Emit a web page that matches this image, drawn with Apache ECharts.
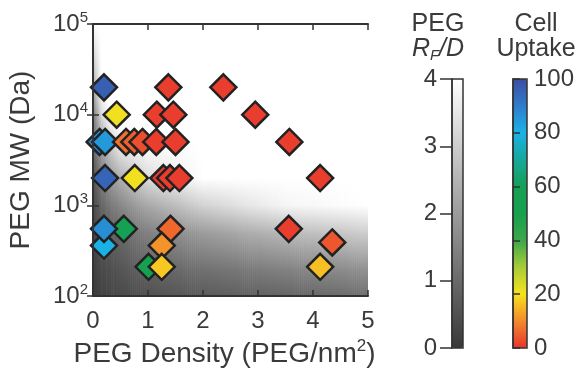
<!DOCTYPE html>
<html>
<head>
<meta charset="utf-8">
<script src="https://cdn.jsdelivr.net/npm/echarts@6.0.0/dist/echarts.min.js"></script>
<style>
  html, body { margin: 0; padding: 0; background: #fff; }
  #chart { width: 584px; height: 369px; }
</style>
</head>
<body>
<div id="chart"></div>
<script>
// PEG density (PEG/nm2), PEG MW (Da), cell uptake (%)
const pegDensity = [0.2, 1.37, 2.37, 0.43, 1.16, 1.46, 2.95, 0.12, 0.22, 0.6, 0.75, 0.9, 1.15, 1.5, 3.57,
  0.22, 0.76, 1.28, 1.4, 1.57, 4.13, 0.2, 0.56, 0.2, 1.41, 1.25, 1.01, 1.25, 3.56, 4.35, 4.13];
const pegMW = [20000, 20000, 20000, 10000, 10000, 10000, 10000, 5000, 5000, 5000, 5000, 5000, 5000, 5000, 5000,
  2000, 2000, 2000, 2000, 2000, 2000, 360, 550, 550, 550, 360, 210, 210, 550, 390, 210];
const cellUptake = [96, 1, 1, 21, 1, 1, 1, 88, 85, 7, 5, 3, 1, 1, 1,
  95, 21, 1, 1, 1, 1, 80, 58, 87, 6, 11, 53, 17, 1, 4, 16];

// background R_F/D read on a coarse grid (rows: MW, cols: density)
const rfdX = [0, 0.05, 0.15, 0.3, 0.5, 1, 2, 3.5, 5];
const rfdMW = [100, 200, 500, 1000, 2000, 5000, 10000, 20000, 100000];
const rfdGrid = [
  [0, 0.1, 0.2, 0.3, 0.35, 0.5, 0.7, 0.9, 1.1],
  [0.05, 0.2, 0.35, 0.45, 0.6, 0.85, 1.15, 1.5, 1.8],
  [0.15, 0.35, 0.6, 0.8, 1.0, 1.45, 2.0, 2.6, 3.0],
  [0.3, 0.55, 0.9, 1.25, 1.6, 2.25, 3.1, 3.8, 4],
  [0.5, 0.8, 1.35, 1.9, 2.4, 3.3, 4, 4, 4],
  [0.9, 1.3, 2.2, 3.0, 3.8, 4, 4, 4, 4],
  [1.4, 1.9, 3.2, 4, 4, 4, 4, 4, 4],
  [2.2, 2.8, 4, 4, 4, 4, 4, 4, 4],
  [4, 4, 4, 4, 4, 4, 4, 4, 4]
];

const rfdTicks = [0, 1, 2, 3, 4];
const uptakeTicks = [0, 20, 40, 60, 80, 100];

const FONT = '"Liberation Sans", Arial, Helvetica, sans-serif';
const TXT = '#3a3a3a';
const LINE = '#333';
const grayLo = 56, grayHi = 255;
const uptakeColors = ['#e8352e', '#f28a2e', '#f8e21c', '#a8cc3a', '#3aa84a', '#17a04e',
  '#14a055', '#18a89a', '#1ab2e6', '#2f7dcc', '#3d4ca2'];

function grayOf(v) {
  v = Math.max(0, Math.min(4, v));
  const g = Math.round(grayLo + (grayHi - grayLo) * v / 4);
  return 'rgb(' + g + ',' + g + ',' + g + ')';
}

const cells = [];
for (let j = 0; j < rfdMW.length - 1; j++) {
  for (let i = 0; i < rfdX.length - 1; i++) {
    const avg = (rfdGrid[j][i] + rfdGrid[j][i + 1] + rfdGrid[j + 1][i] + rfdGrid[j + 1][i + 1]) / 4;
    cells.push([(rfdX[i] + rfdX[i + 1]) / 2, Math.sqrt(rfdMW[j] * rfdMW[j + 1]), avg, i, j]);
  }
}

const points = pegDensity.map((d, k) => [d, pegMW[k], cellUptake[k]]);

function renderCell(params, api) {
  const i = api.value(3), j = api.value(4);
  const p0 = api.coord([rfdX[i], rfdMW[j]]);
  const p1 = api.coord([rfdX[i + 1], rfdMW[j + 1]]);
  const x0 = p0[0], x1 = p1[0], yb = p0[1], yt = p1[1];
  const n = Math.max(1, Math.ceil((x1 - x0) / 2));
  const w = (x1 - x0) / n;
  const children = [];
  for (let k = 0; k < n; k++) {
    const t = (k + 0.5) / n;
    const vb = rfdGrid[j][i] + (rfdGrid[j][i + 1] - rfdGrid[j][i]) * t;
    const vt = rfdGrid[j + 1][i] + (rfdGrid[j + 1][i + 1] - rfdGrid[j + 1][i]) * t;
    children.push({
      type: 'rect',
      shape: { x: x0 + w * k, y: yt, width: w + 0.6, height: yb - yt + 0.6 },
      style: {
        fill: new echarts.graphic.LinearGradient(0, 1, 0, 0, [
          { offset: 0, color: grayOf(vb) },
          { offset: 1, color: grayOf(vt) }
        ])
      },
      silent: true
    });
  }
  return { type: 'group', children: children };
}

const frameAxis = {
  axisLine: { show: true, lineStyle: { color: LINE, width: 2 } },
  axisTick: { show: true, inside: true, length: 6, lineStyle: { color: LINE, width: 1.5 } },
  splitLine: { show: false },
  z: 5
};

const sup = { fontSize: 15, fontFamily: FONT, color: TXT, verticalAlign: 'top', lineHeight: 28 };
const big = { fontSize: 24, fontFamily: FONT, color: TXT, verticalAlign: 'middle', lineHeight: 28 };

const chart = echarts.init(document.getElementById('chart'), null, { renderer: 'canvas' });

chart.setOption({
  animation: false,
  backgroundColor: '#fff',
  textStyle: { fontFamily: FONT },
  grid: [
    { left: 93, top: 24, width: 275, height: 272, outerBoundsMode: 'none', containLabel: false },
    { left: 452, top: 79, width: 11, height: 269, outerBoundsMode: 'none', show: true, z: 10, backgroundColor: 'transparent', borderColor: LINE, borderWidth: 1.5 },
    { left: 513, top: 79, width: 14, height: 269, outerBoundsMode: 'none', show: true, z: 10, backgroundColor: 'transparent', borderColor: LINE, borderWidth: 1.5 }
  ],
  xAxis: [
    Object.assign({}, frameAxis, {
      gridIndex: 0, type: 'value', min: 0, max: 5, interval: 1, position: 'bottom',
      axisLabel: { fontSize: 24, color: TXT, margin: 13, fontFamily: FONT },
      name: 'PEG Density (PEG/nm{s|2})', nameLocation: 'middle', nameGap: 39,
      nameTextStyle: { fontSize: 28, color: TXT, fontFamily: FONT, lineHeight: 32, padding: [0, 12, 0, 0],
        rich: { s: { fontSize: 17, color: TXT, fontFamily: FONT, verticalAlign: 'top', lineHeight: 32 } } }
    }),
    Object.assign({}, frameAxis, {
      gridIndex: 0, type: 'value', min: 0, max: 5, interval: 1, position: 'top',
      axisLabel: { show: false }
    }),
    { gridIndex: 1, type: 'value', show: false },
    { gridIndex: 2, type: 'value', show: false }
  ],
  yAxis: [
    Object.assign({}, frameAxis, {
      gridIndex: 0, type: 'log', logBase: 10, min: 100, max: 100000, position: 'left',
      minorTick: { show: false },
      axisLabel: {
        margin: 5, color: TXT,
        formatter: v => '{b|10}{s|' + Math.round(Math.log10(v)) + '}',
        rich: { b: big, s: sup }
      },
      name: 'PEG MW (Da)', nameLocation: 'middle', nameGap: 58,
      nameTextStyle: { fontSize: 28, color: TXT, fontFamily: FONT }
    }),
    Object.assign({}, frameAxis, {
      gridIndex: 0, type: 'log', logBase: 10, min: 100, max: 100000, position: 'right',
      axisLabel: { show: false }
    }),
    {
      gridIndex: 1, type: 'value', min: rfdTicks[0], max: rfdTicks[rfdTicks.length - 1], interval: 1,
      position: 'left', z: 12,
      axisLine: { show: true, lineStyle: { color: LINE, width: 1.5 } },
      axisTick: { show: true, inside: false, length: 12, lineStyle: { color: LINE, width: 1.5 } },
      axisLabel: { fontSize: 24, color: TXT, margin: 15, fontFamily: FONT },
      splitLine: { show: false }
    },
    {
      gridIndex: 2, type: 'value', min: uptakeTicks[0], max: uptakeTicks[uptakeTicks.length - 1], interval: 20,
      position: 'right', z: 12,
      axisLine: { show: true, lineStyle: { color: LINE, width: 1.5 } },
      axisTick: { show: true, inside: false, length: 7, lineStyle: { color: LINE, width: 1.5 } },
      axisLabel: { fontSize: 24, color: TXT, margin: 7, fontFamily: FONT },
      splitLine: { show: false }
    }
  ],
  visualMap: [
    {
      type: 'continuous', seriesIndex: 0, dimension: 2, min: 0, max: 4,
      calculable: false, hoverLink: false, orient: 'vertical',
      left: 452, top: 79, itemWidth: 11, itemHeight: 269, padding: 0,
      inRange: { color: [grayOf(0), grayOf(4)] }
    },
    {
      type: 'continuous', seriesIndex: 1, dimension: 2, min: 0, max: 100,
      calculable: false, hoverLink: false, orient: 'vertical',
      left: 513, top: 79, itemWidth: 14, itemHeight: 269, padding: 0,
      inRange: { color: uptakeColors }
    }
  ],
  graphic: [
    { type: 'text', x: 438, y: 24, style: { text: 'PEG', font: '25px ' + FONT, fill: TXT, align: 'center', verticalAlign: 'middle' } },
    { type: 'text', x: 438, y: 49, style: {
      text: '{i|R}{f|F}{i|/D}', fill: TXT, align: 'center', verticalAlign: 'middle',
      rich: {
        i: { fontSize: 25, fontStyle: 'italic', fontFamily: FONT, fill: TXT, color: TXT, verticalAlign: 'middle', lineHeight: 28 },
        f: { fontSize: 15, fontStyle: 'italic', fontFamily: FONT, fill: TXT, color: TXT, verticalAlign: 'bottom', lineHeight: 28 }
      } } },
    { type: 'text', x: 536, y: 24, style: { text: 'Cell', font: '25px ' + FONT, fill: TXT, align: 'center', verticalAlign: 'middle' } },
    { type: 'text', x: 536, y: 49, style: { text: 'Uptake', font: '25px ' + FONT, fill: TXT, align: 'center', verticalAlign: 'middle' } }
  ],
  series: [
    {
      type: 'custom', xAxisIndex: 0, yAxisIndex: 0, data: cells,
      encode: { x: 0, y: 1 }, renderItem: renderCell, clip: true, silent: true, z: 1
    },
    {
      type: 'scatter', xAxisIndex: 0, yAxisIndex: 0, data: points,
      symbol: 'diamond', symbolSize: 26, clip: true, z: 3,
      itemStyle: { borderColor: '#222', borderWidth: 2.5, opacity: 1 }
    }
  ]
});
</script>
</body>
</html>
